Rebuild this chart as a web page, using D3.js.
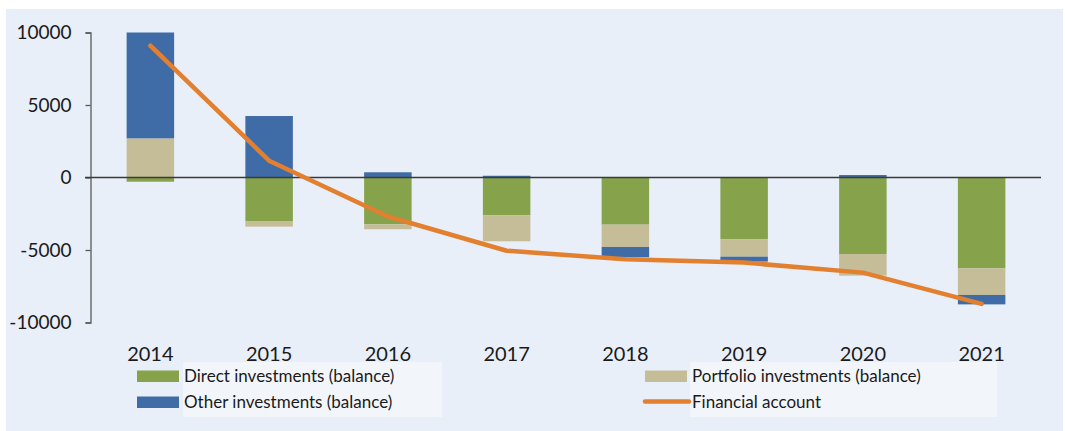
<!DOCTYPE html>
<html>
<head>
<meta charset="utf-8">
<script src="https://cdnjs.cloudflare.com/ajax/libs/d3/7.8.5/d3.min.js"></script>
<style>
  body { margin: 0; background: #ffffff; }
  svg text { font-family: Lato, "Open Sans", sans-serif; fill: #1a1a1a; }
</style>
</head>
<body>
<svg id="chart" width="1065" height="431"></svg>
<script>
// years on the x axis
var years = ['2014', '2015', '2016', '2017', '2018', '2019', '2020', '2021'];
// stacked series
var direct    = [-290, -3000, -3230, -2610, -3250, -4260, -5280, -6270];
var portfolio = [2700, -390, -340, -1790, -1540, -1200, -1490, -1830];
var other     = [7300, 4240, 360, 120, -710, -340, 170, -650];
// line series
var financial = [9090, 1160, -2690, -5050, -5640, -5870, -6560, -8720];
var yTicks = [-10000, -5000, 0, 5000, 10000];

var seriesNames = ['Direct investments (balance)', 'Portfolio investments (balance)', 'Other investments (balance)'];
var colors = {
  direct: '#86a24b',
  portfolio: '#c5bd98',
  other: '#3f6ca6',
  line: '#e2802f'
};

var svg = d3.select('#chart');

// background panel
svg.append('rect')
  .attr('x', 6).attr('y', 9).attr('width', 1057).attr('height', 422)
  .attr('fill', '#e9eff8');

var x = d3.scaleBand().domain(years).range([91, 1041]).paddingInner(0.6).paddingOuter(0.3);
var y = d3.scaleLinear().domain([-10000, 10000]).range([322.5, 32.5]);

// table for the stack
var rows = years.map(function(yr, i){
  return { year: yr, direct: direct[i], portfolio: portfolio[i], other: other[i] };
});
var keys = ['direct', 'portfolio', 'other'];
var stacked = d3.stack().keys(keys).offset(d3.stackOffsetDiverging)(rows);

svg.append('g').selectAll('g')
  .data(stacked)
  .join('g')
    .attr('fill', function(d){ return colors[d.key]; })
  .selectAll('rect')
  .data(function(d){ return d; })
  .join('rect')
    .attr('x', function(d){ return x(d.data.year); })
    .attr('width', x.bandwidth())
    .attr('y', function(d){ return y(Math.max(d[0], d[1])); })
    .attr('height', function(d){ return Math.abs(y(d[0]) - y(d[1])); });

// y axis
var yAxis = svg.append('g')
  .attr('transform', 'translate(90.5,0)')
  .call(d3.axisLeft(y).tickValues(yTicks).tickSize(5).tickPadding(14)
    .tickFormat(function(d){ return String(d); }));
yAxis.select('.domain').attr('stroke', '#595959').attr('stroke-width', 1.3);
yAxis.selectAll('.tick line').attr('stroke', '#595959').attr('stroke-width', 1.3);
yAxis.selectAll('.tick text')
  .attr('font-size', 19)
  .attr('font-family', 'Lato, sans-serif')
  .attr('fill', '#1a1a1a');

// zero line
svg.append('line')
  .attr('x1', 85).attr('x2', 1041)
  .attr('y1', y(0)).attr('y2', y(0))
  .attr('stroke', '#3a3a3a').attr('stroke-width', 1.5);

// x labels
svg.append('g').selectAll('text')
  .data(years)
  .join('text')
    .attr('x', function(d){ return x(d) + x.bandwidth() / 2; })
    .attr('y', 360.5)
    .attr('text-anchor', 'middle')
    .attr('font-size', 20)
    .text(function(d){ return d; });

// financial account line
var line = d3.line()
  .x(function(d, i){ return x(years[i]) + x.bandwidth() / 2; })
  .y(function(d){ return y(d); });
svg.append('path')
  .datum(financial)
  .attr('d', line)
  .attr('fill', 'none')
  .attr('stroke', colors.line)
  .attr('stroke-width', 4.5)
  .attr('stroke-linejoin', 'round')
  .attr('stroke-linecap', 'round');

// legend
var leg = svg.append('g');
leg.append('rect').attr('x', 183).attr('y', 362).attr('width', 259).attr('height', 55).attr('fill', '#f2f6fb');
leg.append('rect').attr('x', 690).attr('y', 362).attr('width', 307).attr('height', 55).attr('fill', '#f2f6fb');

var legItems = [
  { name: seriesNames[0], key: 'direct', sx: 137, ty: 376.5 },
  { name: seriesNames[2], key: 'other', sx: 137, ty: 402.5 },
  { name: seriesNames[1], key: 'portfolio', sx: 645, ty: 376.5 },
  { name: 'Financial account', key: 'line', sx: 645, ty: 402.5 }
];
legItems.forEach(function(it){
  if (it.key == 'line') {
    leg.append('line')
      .attr('x1', it.sx).attr('x2', it.sx + 44)
      .attr('y1', it.ty - 1).attr('y2', it.ty - 1)
      .attr('stroke', colors.line).attr('stroke-width', 4.5)
      .attr('stroke-linecap', 'round');
  } else {
    leg.append('rect')
      .attr('x', it.sx).attr('y', it.ty - 6).attr('width', 42).attr('height', 11.5)
      .attr('fill', colors[it.key]);
  }
  leg.append('text')
    .attr('x', it.sx + 47).attr('y', it.ty)
    .attr('dy', '0.35em')
    .attr('font-size', 17)
    .text(it.name);
});
</script>
</body>
</html>
